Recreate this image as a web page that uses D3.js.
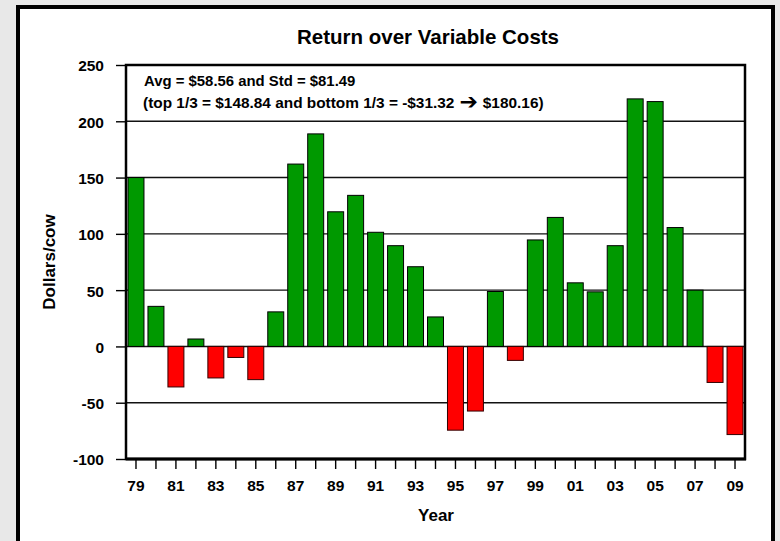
<!DOCTYPE html>
<html>
<head>
<meta charset="utf-8">
<script src="https://cdn.jsdelivr.net/npm/d3@7"></script>
<style>
body { margin: 0; background: #e8e8e8; }
text { font-family: "Liberation Sans", Arial, sans-serif; font-weight: bold; fill: #000; }
</style>
</head>
<body>
<div id="chart"></div>
<script>
// chart data
var years = ["79","80","81","82","83","84","85","86","87","88","89","90","91","92","93","94",
             "95","96","97","98","99","00","01","02","03","04","05","06","07","08","09"];
var returns = [150, 35.6, -36, 6.6, -28, -9.8, -29.5, 30.7, 162, 188.8, 119.6, 134.2, 101.4, 89.5, 70.8, 26.2,
               -74.4, -57.4, 48.8, -12.4, 94.6, 114.6, 56.5, 48.5, 89.5, 219.9, 217.5, 105.6, 50, -32, -78.3];
var yTicks = [-100, -50, 0, 50, 100, 150, 200, 250];
var labelYears = years.filter(function(d, i){ return i % 2 == 0; });
var title = "Return over Variable Costs";
var note1 = "Avg = $58.56 and Std = $81.49";
var note2a = "(top 1/3 = $148.84 and bottom 1/3 = -$31.32";
var note2arrow = "\u2794";
var note2b = "$180.16)";

var W = 780, H = 541;
var pLeft = 126, pRight = 745, pTop = 65, pBottom = 459;

svg = d3.select("#chart").append("svg").attr("width", W).attr("height", H);

// outer white frame
svg.append("rect")
    .attr("x", 18).attr("y", 7)
    .attr("width", 755).attr("height", 580)
    .attr("fill", "#fff")
    .attr("stroke", "#000")
    .attr("stroke-width", 4);

var x = d3.scaleBand().domain(years).range([pLeft, pRight]).paddingInner(0.2).paddingOuter(0.1);
var y = d3.scaleLinear().domain([-100, 250]).range([pBottom, pTop]);

g = svg.append("g");

// gridlines
g.selectAll(".grid")
    .data(yTicks)
    .enter().append("line")
    .attr("x1", pLeft).attr("x2", pRight)
    .attr("y1", function(d){ return y(d); })
    .attr("y2", function(d){ return y(d); })
    .attr("stroke", "#111")
    .attr("stroke-width", 1.4);

// bars
g.selectAll(".bar")
    .data(returns)
    .enter().append("rect")
    .attr("x", function(d, i){ return x(years[i]); })
    .attr("width", x.bandwidth())
    .attr("y", function(d){ return y(Math.max(0, d)); })
    .attr("height", function(d){ return Math.abs(y(d) - y(0)); })
    .attr("fill", function(d){ return d < 0 ? "#ff0000" : "#009900"; })
    .attr("stroke", function(d){ return d < 0 ? "#300" : "#000"; })
    .attr("stroke-width", 1);

// plot frame
g.append("rect")
    .attr("x", pLeft).attr("y", pTop)
    .attr("width", pRight - pLeft).attr("height", pBottom - pTop)
    .attr("fill", "none")
    .attr("stroke", "#000")
    .attr("stroke-width", 2.5);

// y axis (plain hyphen minus like the original)
var yAxis = g.append("g")
    .attr("transform", "translate(" + pLeft + ",0)")
    .call(d3.axisLeft(y).tickValues(yTicks).tickSize(10).tickPadding(12)
        .tickFormat(function(d){ return String(d); }));
yAxis.select(".domain").remove();
yAxis.selectAll("line").attr("stroke", "#000").attr("stroke-width", 1.4);
yAxis.selectAll("text")
    .attr("dy", "0.38em")
    .style("font-size", "15.5px")
    .style("font-family", "'Liberation Sans', Arial, sans-serif")
    .style("font-weight", "bold");

// x axis, label every other year
var xAxis = g.append("g")
    .attr("transform", "translate(0," + pBottom + ")")
    .call(d3.axisBottom(x).tickSize(10)
        .tickFormat(function(d){ return labelYears.indexOf(d) >= 0 ? d : ""; }));
xAxis.select(".domain").remove();
xAxis.selectAll("line").attr("stroke", "#000").attr("stroke-width", 1.4);
xAxis.selectAll("text")
    .attr("y", 21)
    .attr("dy", "0.71em")
    .style("font-size", "15.5px")
    .style("font-family", "'Liberation Sans', Arial, sans-serif")
    .style("font-weight", "bold");

// bottom axis line drawn again thick
g.append("line")
    .attr("x1", pLeft).attr("x2", pRight + 1)
    .attr("y1", pBottom).attr("y2", pBottom)
    .attr("stroke", "#000").attr("stroke-width", 3);

// titles
svg.append("text")
    .attr("x", 428).attr("y", 44)
    .attr("text-anchor", "middle")
    .style("font-size", "20.5px")
    .text(title);

svg.append("text")
    .attr("x", 436).attr("y", 521)
    .attr("text-anchor", "middle")
    .style("font-size", "17px")
    .text("Year");

svg.append("text")
    .attr("transform", "translate(55,262) rotate(-90)")
    .attr("text-anchor", "middle")
    .style("font-size", "17px")
    .text("Dollars/cow");

// stats note
svg.append("text")
    .attr("x", 144).attr("y", 86)
    .style("font-size", "14.9px")
    .text(note1);

var n2 = svg.append("text")
    .attr("x", 143).attr("y", 108)
    .style("font-size", "15.4px");
n2.append("tspan").text(note2a);
n2.append("tspan")
    .attr("dx", 5).attr("dy", 1)
    .style("font-size", "22px")
    .style("font-family", "'DejaVu Sans', sans-serif")
    .text(note2arrow);
n2.append("tspan")
    .attr("dx", 5).attr("dy", -1)
    .text(note2b);
</script>
</body>
</html>
